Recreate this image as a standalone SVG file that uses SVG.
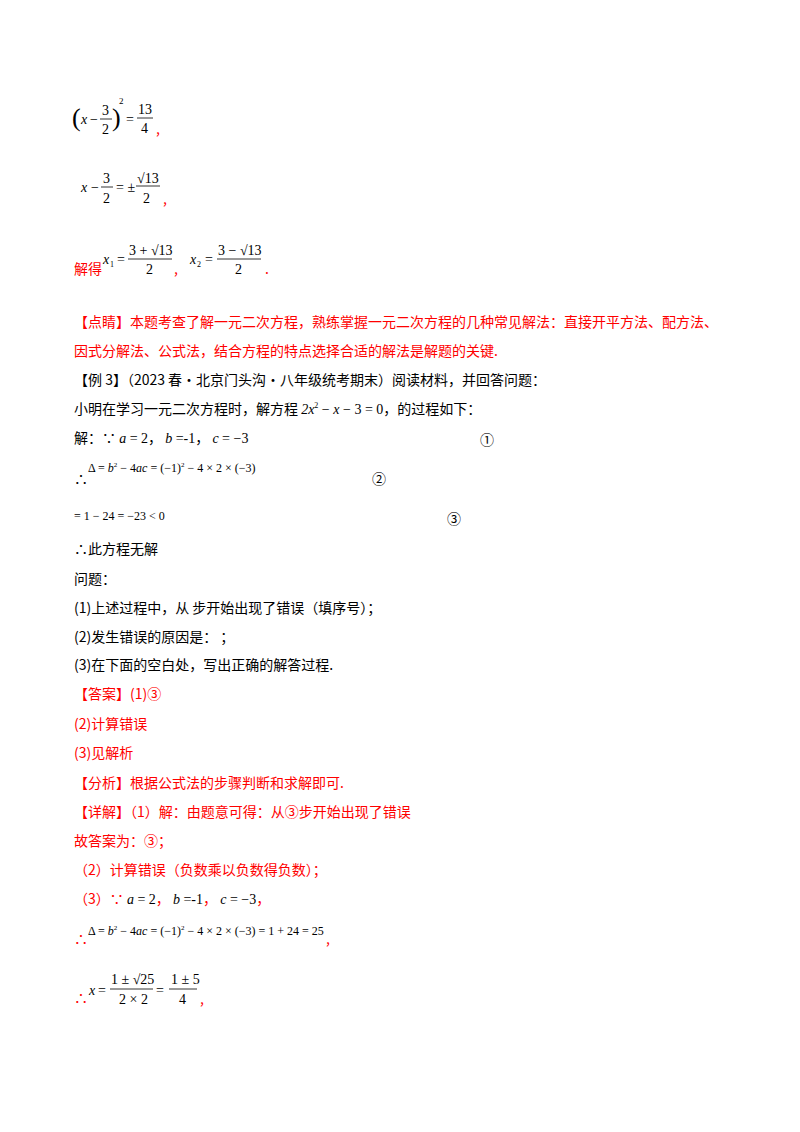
<svg xmlns="http://www.w3.org/2000/svg" width="800" height="1132" viewBox="0 0 800 1132">
<style>
text{font-family:"Noto Sans CJK SC","Liberation Sans",sans-serif;font-size:14px;fill:#000}
.r{fill:#ff0000}
.m{font-family:"Liberation Serif",serif;font-size:14px}
.i{font-style:italic}
.s{font-size:12px}
line{stroke:#000;stroke-width:0.8}
</style>
<rect width="800" height="1132" fill="#fff"/>
<!-- line 1 -->
<text class="m" x="72" y="126" font-size="24" style="font-size:26px;font-weight:100">(</text>
<text class="m i" x="81" y="124">x</text><text class="m" x="90" y="124">−</text>
<text class="m" x="102" y="115">3</text><line x1="100" y1="119" x2="112" y2="119"/><text class="m" x="102" y="134">2</text>
<text class="m" x="112" y="126" style="font-size:26px">)</text>
<text class="m" x="119" y="104" style="font-size:9px">2</text>
<text class="m" x="126" y="124">=</text>
<text class="m" x="138" y="114">13</text><line x1="137" y1="118" x2="153" y2="118"/><text class="m" x="141" y="133">4</text>
<text class="r" x="156" y="134">,</text>
<!-- line 2 -->
<text class="m i" x="81" y="192">x</text><text class="m" x="91" y="192">−</text>
<text class="m" x="103" y="183">3</text><line x1="101" y1="187" x2="113" y2="187"/><text class="m" x="103" y="203">2</text>
<text class="m" x="116" y="192">= ±</text>
<text class="m" x="137" y="183">√13</text><line x1="136" y1="186" x2="160" y2="186"/><text class="m" x="143" y="203">2</text>
<text class="r" x="163" y="204">,</text>
<!-- line 3 -->
<text class="r" x="74" y="274">解得</text>
<text class="m i" x="103" y="264">x</text><text class="m" x="110" y="267" style="font-size:8px">1</text>
<text class="m" x="117" y="264">=</text>
<text class="m" x="129" y="255">3 + √13</text><line x1="128" y1="259" x2="172" y2="259"/><text class="m" x="146" y="274">2</text>
<text class="r" x="174" y="274">,</text>
<text class="m i" x="190" y="264">x</text><text class="m" x="197" y="267" style="font-size:8px">2</text>
<text class="m" x="205" y="264">=</text>
<text class="m" x="218" y="255">3 − √13</text><line x1="217" y1="259" x2="261" y2="259"/><text class="m" x="235" y="274">2</text>
<text class="r" x="265" y="274">.</text>
<!-- 点睛 -->
<text class="r" x="74" y="327">【点睛】本题考查了解一元二次方程，熟练掌握一元二次方程的几种常见解法：直接开平方法、配方法、</text>
<text class="r" x="74" y="356">因式分解法、公式法，结合方程的特点选择合适的解法是解题的关键.</text>
<text x="74" y="385">【例 3】（2023 春·北京门头沟·八年级统考期末）阅读材料，并回答问题：</text>
<text x="74" y="414">小明在学习一元二次方程时，解方程 <tspan class="m"><tspan class="i">2x</tspan><tspan style="font-size:8px" dy="-6">2</tspan><tspan dy="6"> − </tspan><tspan class="i">x</tspan> − 3 = 0</tspan>，的过程如下：</text>
<text x="74" y="443">解：∵ <tspan class="m"><tspan class="i">a</tspan> = 2</tspan>， <tspan class="m"><tspan class="i">b</tspan> =-1</tspan>， <tspan class="m"><tspan class="i">c</tspan> = −3</tspan></text>
<text x="480" y="445">①</text>
<text x="74" y="484">∴</text>
<text class="m" x="88" y="472" style="font-size:12px">Δ = <tspan class="i">b</tspan><tspan style="font-size:7px" dy="-5">2</tspan><tspan dy="5"> − 4</tspan><tspan class="i">ac</tspan> = (−1)<tspan style="font-size:7px" dy="-5">2</tspan><tspan dy="5"> − 4 × 2 × (−3)</tspan></text>
<text x="372" y="484">②</text>
<text class="m" x="74" y="520" style="font-size:12px">= 1 − 24 = −23 &lt; 0</text>
<text x="447" y="524">③</text>
<text x="74" y="554">∴此方程无解</text>
<text x="74" y="584">问题：</text>
<text x="74" y="613">(1)上述过程中，从  步开始出现了错误（填序号）；</text>
<text x="74" y="642">(2)发生错误的原因是：  ；</text>
<text x="74" y="670">(3)在下面的空白处，写出正确的解答过程.</text>
<text class="r" x="74" y="699">【答案】(1)③</text>
<text class="r" x="74" y="729">(2)计算错误</text>
<text class="r" x="74" y="758">(3)见解析</text>
<text class="r" x="74" y="788">【分析】根据公式法的步骤判断和求解即可.</text>
<text class="r" x="74" y="817">【详解】（1）解：由题意可得：从③步开始出现了错误</text>
<text class="r" x="74" y="846">故答案为：③；</text>
<text class="r" x="74" y="875">（2）计算错误（负数乘以负数得负数）；</text>
<text class="r" x="74" y="904">（3）∵ <tspan class="m" style="fill:#000"><tspan class="i">a</tspan> = 2</tspan>， <tspan class="m" style="fill:#000"><tspan class="i">b</tspan> =-1</tspan>， <tspan class="m" style="fill:#000"><tspan class="i">c</tspan> = −3</tspan>，</text>
<text class="r" x="74" y="944">∴</text>
<text class="m" x="88" y="935" style="font-size:12px">Δ = <tspan class="i">b</tspan><tspan style="font-size:7px" dy="-5">2</tspan><tspan dy="5"> − 4</tspan><tspan class="i">ac</tspan> = (−1)<tspan style="font-size:7px" dy="-5">2</tspan><tspan dy="5"> − 4 × 2 × (−3) = 1 + 24 = 25</tspan></text>
<text class="r" x="326" y="944">,</text>
<text class="r" x="74" y="1003">∴</text>
<text class="m i" x="89" y="995">x</text><text class="m" x="98" y="995">=</text>
<text class="m" x="111" y="984">1 ± √25</text><line x1="110" y1="989" x2="153" y2="989"/><text class="m" x="119" y="1004">2 × 2</text>
<text class="m" x="156" y="995">=</text>
<text class="m" x="171" y="984">1 ± 5</text><line x1="169" y1="989" x2="197" y2="989"/><text class="m" x="179" y="1004">4</text>
<text class="r" x="200" y="1004">,</text>
</svg>
